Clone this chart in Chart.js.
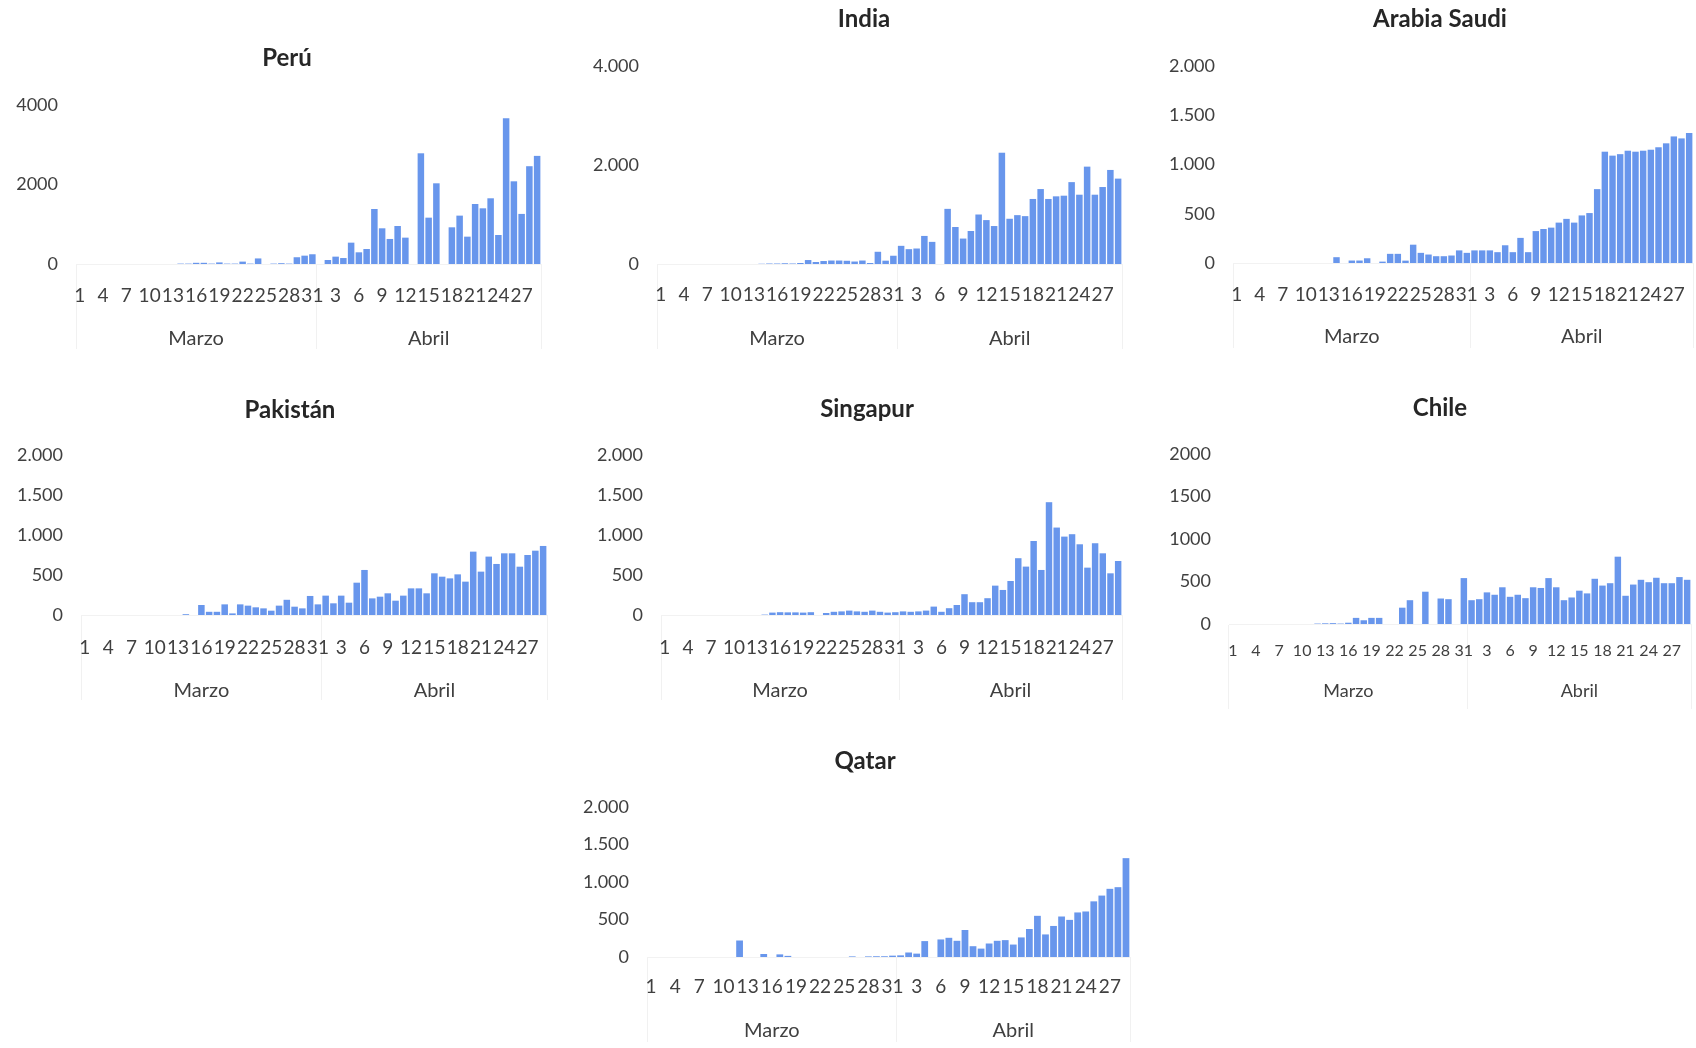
<!DOCTYPE html>
<html>
<head>
<meta charset="utf-8">
<title>Casos diarios</title>
<script src="https://cdn.jsdelivr.net/npm/chart.js@4/dist/chart.umd.min.js"></script>
<style>
  html, body { margin: 0; padding: 0; background: #fff; overflow: hidden; }
  body { width: 1696px; height: 1048px; position: relative; }
  canvas { position: absolute; }
</style>
</head>
<body>
<canvas id="peru"></canvas>
<canvas id="india"></canvas>
<canvas id="arabia"></canvas>
<canvas id="pakistan"></canvas>
<canvas id="singapur"></canvas>
<canvas id="chile"></canvas>
<canvas id="qatar"></canvas>
<script>
// dias: 1-31 marzo, 1-29 abril
const dias = ['1','2','3','4','5','6','7','8','9','10','11','12','13','14','15','16','17','18','19','20',
  '21','22','23','24','25','26','27','28','29','30','31',
  '1','2','3','4','5','6','7','8','9','10','11','12','13','14','15','16','17','18','19','20',
  '21','22','23','24','25','26','27','28','29'];
const meses = ['Marzo', 'Abril'];

const peru = [0,0,0,0,0,0,0,0,0,0, 0,0,0,10,10,30,30,10,40,10, 10,60,10,140,0,10,20,10,170,210, 245,
  0,100,185,150,537,294,378,1384,898,630, 956,663,0,2785,1166,2030,0,923,1217,688, 1510,1401,1653,730,3666,2080,1260,2460,2720];
const india = [0,0,0,0,0,0,0,0,0,0, 0,0,0,5,10,10,15,10,20,80, 40,60,70,70,65,50,70,20,247,67, 167,
  367,300,313,567,447,0,1114,747,514,667, 1000,887,767,2248,914,987,967,1314,1514,1314, 1367,1380,1654,1400,1967,1400,1555,1900,1725];
const arabia = [0,0,0,0,0,0,0,0,0,0, 0,0,0,59,0,25,25,48,0,14, 93,93,24,186,103,86,69,69,76,128, 103,
  128,128,128,110,180,110,255,110,324,345, 359,410,448,410,483,507,750,1130,1090,1105, 1140,1130,1140,1150,1175,1215,1285,1265,1320];
const pakistan = [0,0,0,0,0,0,0,0,0,0, 0,0,0,10,0,125,40,40,133,20, 133,117,96,83,54,117,190,104,83,238, 133,
  242,146,242,154,404,563,208,229,271,179, 242,333,333,271,521,479,458,508,417,792, 542,730,638,771,771,604,750,804,863];
const singapur = [0,0,0,0,0,0,0,0,0,0, 0,0,0,5,30,35,33,33,30,35, 0,25,40,45,55,45,40,55,40,30, 35,
  45,40,45,55,105,40,85,125,260,160, 160,210,367,313,425,710,605,925,563,1410, 1093,980,1010,884,592,897,771,521,675];
const chile = [0,0,0,0,0,0,0,0,0,0, 0,5,8,10,5,15,72,44,72,72, 0,0,192,280,0,380,0,300,292,0, 540,
  280,292,372,344,432,320,344,304,432,424, 540,432,280,312,392,360,532,452,480,792, 332,464,520,492,544,480,480,552,520];
const qatar = [0,0,0,0,0,0,0,0,0,0, 0,220,0,0,40,0,35,15,0,0, 0,0,0,0,0,8,0,8,10,10, 18,
  22,60,45,212,0,234,256,216,360,144, 112,180,216,225,166,261,373,549,301,414, 540,495,594,607,742,819,909,931,1318];

const ejeCuatroMil = [0, 2000, 4000];
const ejeDosMil = [0, 500, 1000, 1500, 2000];

const AZUL = 'rgb(104,150,236)';
const TEXTO = '#404040';
const FUENTE = 'Lato, "Open Sans", sans-serif';

function fmt(v, sep) {
  if (!sep || v < 1000) return String(v);
  return Math.floor(v / 1000) + '.' + String(v % 1000).padStart(3, '0');
}

// g: caja del lienzo y del area de barras (x0/x1 lienzo, L/R/T/B area, TY titulo, dy/my etiquetas)
function grafico(id, titulo, valores, eje, sep, g) {
  const cv = document.getElementById(id);
  const y0 = Math.round(g.TY - 16.4);
  cv.width = g.x1 - g.x0;
  cv.height = Math.round(g.B - y0 + 92);
  cv.style.left = g.x0 + 'px';
  cv.style.top = y0 + 'px';
  const fDia = g.fDia || 19, fMes = g.fMes || 20;

  new Chart(cv, {
    type: 'bar',
    data: {
      labels: dias,
      datasets: [{
        label: titulo,
        data: valores,
        backgroundColor: AZUL,
        categoryPercentage: 0.84,
        barPercentage: 1
      }]
    },
    options: {
      responsive: false,
      animation: false,
      layout: { padding: 0 },
      plugins: {
        legend: { display: false },
        tooltip: { enabled: false },
        title: {
          display: true,
          text: titulo,
          color: '#262626',
          font: { family: FUENTE, size: 24, weight: 'bold' },
          padding: { top: 2, bottom: g.T - y0 - 2 - 28.8 }
        }
      },
      scales: {
        x: {
          type: 'category',
          position: 'bottom',
          weight: 0,
          grid: {
            display: true,
            drawOnChartArea: false,
            drawTicks: true,
            tickLength: 85,
            // solo las separaciones de mes
            color: c => (c.index === 0 || c.index === 31 || c.index === undefined) ? '#f1f1f1' : 'rgba(0,0,0,0)'
          },
          border: { display: true, color: '#f2f2f2' },
          ticks: {
            autoSkip: false, maxRotation: 0, minRotation: 0,
            color: TEXTO,
            font: { family: FUENTE, size: fDia },
            padding: (g.dy - g.B) - 85 - fDia * 0.6,
            callback: (v, i) => i % 3 === 0 ? dias[i] : ''
          },
          afterFit: s => { s.height = 45; }
        },
        x2: {
          type: 'linear',
          position: 'bottom',
          weight: 1,
          offset: false,
          min: -0.5, max: 59.5,
          grid: { display: false, drawTicks: false, tickLength: 0, offset: false },
          border: { display: false },
          ticks: {
            autoSkip: false, maxRotation: 0,
            color: TEXTO,
            font: { family: FUENTE, size: fMes },
            padding: (g.my - g.B) - 45 - fMes * 0.6,
            callback: v => v < 30 ? meses[0] : meses[1]
          },
          afterBuildTicks: s => { s.ticks = [{ value: 15 }, { value: 45 }]; },
          afterFit: s => { s.height = 47; }
        },
        y: {
          position: 'left',
          min: eje[0], max: eje[eje.length - 1],
          grid: { display: false, drawTicks: false, tickLength: 0 },
          border: { display: false },
          ticks: {
            stepSize: eje[1] - eje[0],
            color: TEXTO,
            font: { family: FUENTE, size: 18 },
            padding: 18,
            callback: v => fmt(v, sep)
          },
          afterFit: s => { s.width = g.L - g.x0; }
        },
        yr: {
          position: 'right',
          display: true,
          min: 0, max: 1,
          grid: { display: false, drawTicks: false, tickLength: 0 },
          border: { display: false },
          ticks: { display: false },
          afterFit: s => { s.width = g.x1 - g.R; }
        }
      }
    }
  });
}

grafico('peru', 'Perú', peru, ejeCuatroMil, false,
  { x0: 5, x1: 569, L: 76, R: 541, TY: 58, T: 105, B: 264, dy: 296, my: 339 });
grafico('india', 'India', india, ejeCuatroMil, true,
  { x0: 590, x1: 1138, L: 657, R: 1122, TY: 19, T: 66, B: 264, dy: 295, my: 339 });
grafico('arabia', 'Arabia Saudi', arabia, ejeDosMil, true,
  { x0: 1166, x1: 1714, L: 1233, R: 1693, TY: 19, T: 66, B: 263, dy: 295, my: 337 });
grafico('pakistan', 'Pakistán', pakistan, ejeDosMil, true,
  { x0: 10, x1: 570, L: 81, R: 547, TY: 410, T: 455, B: 615, dy: 648, my: 691 });
grafico('singapur', 'Singapur', singapur, ejeDosMil, true,
  { x0: 595, x1: 1139, L: 661, R: 1122, TY: 409, T: 455, B: 615, dy: 648, my: 691 });
grafico('chile', 'Chile', chile, ejeDosMil, false,
  { x0: 1166, x1: 1714, L: 1229, R: 1691, TY: 408, T: 454, B: 624, dy: 651, my: 691, fDia: 16, fMes: 18 });
grafico('qatar', 'Qatar', qatar, ejeDosMil, true,
  { x0: 580, x1: 1150, L: 647, R: 1130, TY: 761, T: 807, B: 957, dy: 987, my: 1031 });
</script>
</body>
</html>
